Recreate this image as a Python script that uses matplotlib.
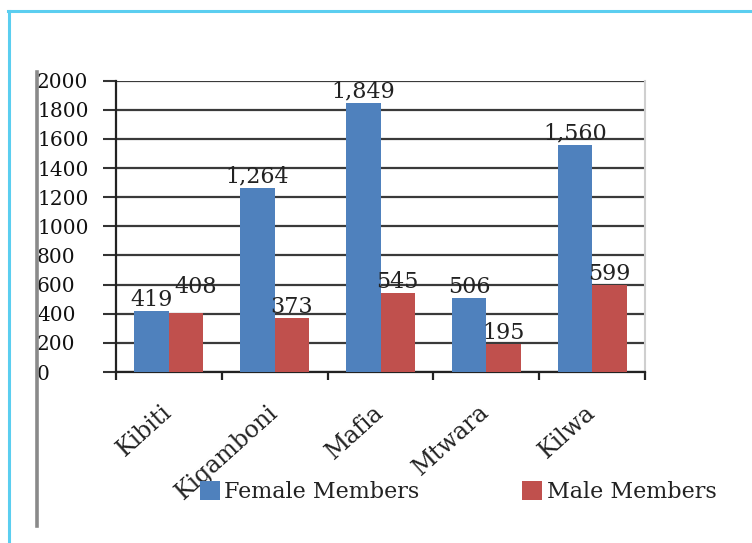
import matplotlib
matplotlib.use("Agg")
import matplotlib.pyplot as plt
from matplotlib.lines import Line2D
from matplotlib.patches import Patch
import numpy as np

# ---- data ----
categories = ["Kibiti", "Kigamboni", "Mafia", "Mtwara", "Kilwa"]
female = [419, 1264, 1849, 506, 1560]
male = [408, 373, 545, 195, 599]
series_names = ["Female Members", "Male Members"]
y_ticks = [0, 200, 400, 600, 800, 1000, 1200, 1400, 1600, 1800, 2000]

# ---- style ----
BLUE = "#4F81BD"
RED = "#C0504D"
GRID = "#3a3a3a"
FONT = "DejaVu Serif"
DPI = 100
PT = 72 / DPI  # points per pixel

plt.rcParams["font.family"] = [FONT, "DejaVu Sans"]

fig = plt.figure(figsize=(7.52, 5.43), dpi=DPI)
W, H = 752, 543

def fx(px):
    return px / W

def fy(py):
    return 1 - py / H

# outer light-blue frame (top and left edges)
fig.add_artist(Line2D([fx(8), 1.0], [fy(11), fy(11)], color="#5BCEF0", lw=2.2, transform=fig.transFigure))
fig.add_artist(Line2D([fx(8.5), fx(8.5)], [fy(11), 0.0], color="#5BCEF0", lw=2.2, transform=fig.transFigure))
# grey vertical edge line of the inner chart image
fig.add_artist(Line2D([fx(37), fx(37)], [fy(72), fy(526)], color="#8a8a8a", lw=2.6, transform=fig.transFigure))

ax = fig.add_axes([fx(116), fy(372), fx(645) - fx(116), fy(80.7) - fy(372)])

x = np.arange(len(categories))
bw = 0.326
b1 = ax.bar(x - bw / 2, female, width=bw, color=BLUE, zorder=3, label=series_names[0])
b2 = ax.bar(x + bw / 2, male, width=bw, color=RED, zorder=3, label=series_names[1])

ax.set_xlim(-0.5, len(categories) - 0.5)
ax.set_ylim(0, 2000)

# grid
ax.set_yticks(y_ticks)
ax.yaxis.grid(True, color=GRID, lw=1.6, zorder=1)
ax.set_axisbelow(True)

# spines
ax.spines["top"].set_visible(False)
ax.spines["right"].set_color("#cfcfcf")
ax.spines["right"].set_linewidth(1.5)
ax.spines["left"].set_color("#222222")
ax.spines["left"].set_linewidth(1.6)
ax.spines["bottom"].set_color("#222222")
ax.spines["bottom"].set_linewidth(1.6)

# y tick labels left-aligned at x=37px
ytick_len_px = 13
ax.tick_params(axis="y", length=ytick_len_px * PT, width=1.5, color="#333333",
               pad=(116 - 37 - ytick_len_px) * PT, labelsize=14.5, labelcolor="#111111")
ax.set_yticklabels([str(v) for v in y_ticks])
for lab in ax.get_yticklabels():
    lab.set_horizontalalignment("left")

# x ticks: marks at category boundaries, labels at centers
ax.set_xticks(x)
ax.set_xticks(np.arange(-0.5, len(categories), 1.0), minor=True)
ax.tick_params(axis="x", which="major", length=0, pad=37 * PT)
ax.tick_params(axis="x", which="minor", length=8 * PT, width=1.6, color="#222222")
ax.set_xticklabels(categories, rotation=42, ha="right", va="center",
                   rotation_mode="anchor", fontsize=17, color="#222222")

# data labels
label_nudge = {(1, 0): (10, 15)}  # (series, index): (dx px, dy px) to avoid overlap
for si, bars in enumerate([b1, b2]):
    for i, rect in enumerate(bars):
        v = rect.get_height()
        dx, dy = label_nudge.get((si, i), (0, 0))
        ax.annotate(f"{int(v):,}", (rect.get_x() + rect.get_width() / 2, v),
                    xytext=(dx * PT, (5 + dy) * PT), textcoords="offset points",
                    ha="center", va="baseline", fontsize=16, color="#222222",
                    zorder=5)

# legend
handles = [Patch(facecolor=BLUE, edgecolor="none"), Patch(facecolor=RED, edgecolor="none")]
fig.legend(handles, series_names, loc="center", bbox_to_anchor=(fx(458), fy(492)),
           ncol=2, frameon=False, fontsize=16, handlelength=0.9, handleheight=0.9,
           handletextpad=0.22, columnspacing=4.6, labelcolor="#222222",
           borderpad=0, borderaxespad=0)

fig.savefig("out.png", dpi=DPI)
